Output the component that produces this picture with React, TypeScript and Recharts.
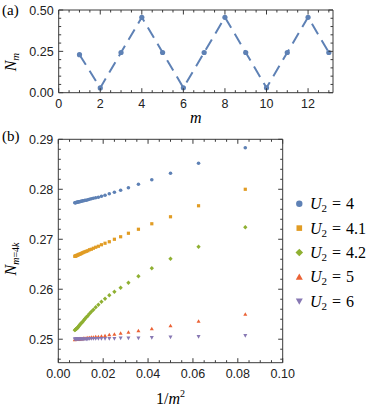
import React from "react"
import { ComposedChart, Line, Scatter, XAxis, YAxis } from "recharts"

// panel (a): N_m against m
const mValues = [1, 2, 3, 4, 5, 6, 7, 8, 9, 10, 11, 12, 13]
const nValues = [0.23, 0.029, 0.243, 0.456, 0.243, 0.03, 0.243, 0.456, 0.243, 0.03, 0.243, 0.456, 0.243]

// panel (b): N_{m=4k} against 1/m^2
const invM2 = [
 0.08333, 0.0625, 0.05, 0.04167, 0.03571, 0.03125, 0.02778, 0.025, 0.02273, 0.02083, 0.01923,
 0.01786, 0.01667, 0.01563, 0.01471, 0.01389, 0.01316, 0.0125, 0.0119, 0.01136, 0.01087, 0.01042,
 0.01, 0.00962, 0.00926, 0.00893, 0.00862, 0.00833, 0.00806, 0.00781, 0.00758, 0.00735,
]
const u4 = [
 0.2883, 0.2852, 0.2832, 0.2819, 0.281, 0.2803, 0.2798, 0.2794, 0.2791, 0.2788, 0.2786,
 0.2784, 0.2783, 0.2782, 0.2781, 0.278, 0.2779, 0.2778, 0.2778, 0.2777, 0.2777, 0.2776,
 0.2776, 0.2775, 0.2775, 0.2775, 0.2774, 0.2774, 0.2774, 0.2773, 0.2773, 0.2773,
]
const u41 = [
 0.28, 0.2767, 0.2745, 0.2731, 0.272, 0.2712, 0.2705, 0.27, 0.2695, 0.2692, 0.2689,
 0.2686, 0.2684, 0.2682, 0.268, 0.2679, 0.2677, 0.2676, 0.2675, 0.2674, 0.2673, 0.2672,
 0.2671, 0.267, 0.267, 0.2669, 0.2668, 0.2668, 0.2667, 0.2667, 0.2666, 0.2666,
]
const u42 = [
 0.2724, 0.2685, 0.2661, 0.2642, 0.2626, 0.2613, 0.2603, 0.2595, 0.2588, 0.2581, 0.2575,
 0.2569, 0.2564, 0.2559, 0.2555, 0.2551, 0.2547, 0.2544, 0.2541, 0.2538, 0.2535, 0.2533,
 0.2531, 0.2529, 0.2527, 0.2525, 0.2523, 0.2522, 0.2521, 0.252, 0.2519, 0.2518,
]
const u5 = [
 0.255, 0.2536, 0.2527, 0.2521, 0.2517, 0.2514, 0.2512, 0.251, 0.2509, 0.2507, 0.2506,
 0.2505, 0.2505, 0.2504, 0.2504, 0.2503, 0.2503, 0.2502, 0.2502, 0.2502, 0.2501, 0.2501,
 0.2501, 0.2501, 0.25, 0.25, 0.25, 0.25, 0.25, 0.25, 0.25, 0.2499,
]
const u6 = [
 0.2507, 0.2505, 0.2504, 0.2503, 0.2502, 0.2502, 0.2502, 0.2501, 0.2501, 0.2501, 0.2501,
 0.2501, 0.2501, 0.2501, 0.2501, 0.2501, 0.25, 0.25, 0.25, 0.25, 0.25, 0.25,
 0.25, 0.25, 0.25, 0.25, 0.25, 0.25, 0.25, 0.25, 0.25, 0.25,
]

const seriesLabels = ["4", "4.1", "4.2", "5", "6"]
const seriesColors = ["#5E81B5", "#E19C24", "#8FB032", "#EB6235", "#8778B3"]
const seriesShapes = ["circle", "square", "diamond", "up", "down"]
const seriesValues = [u4, u41, u42, u5, u6]

// tick labels
const aXMajor = [0, 2, 4, 6, 8, 10, 12]
const aYMajor = [0, 0.25, 0.5]
const bXMajor = [0, 0.02, 0.04, 0.06, 0.08, 0.1]
const bYMajor = [0.25, 0.26, 0.27, 0.28, 0.29]

const steps = (from: number, to: number, step: number) => {
 const out: number[] = []
 for (let i = 0; from + i * step <= to + 1e-9; i++) out.push(+(from + i * step).toFixed(6))
 return out
}

const aXTicks = steps(0, 13, 0.5)
const aYTicks = steps(0, 0.5, 0.05)
const bXTicks = steps(0, 0.1, 0.005)
const bYTicks = steps(0.246, 0.29, 0.002)

const FRAME = "#3a3a3a"
const SANS = "'Liberation Sans', Arial, sans-serif"
const SERIF = "'Liberation Serif', 'Times New Roman', serif"

const isMajor = (v: number, majors: number[]) => majors.some((m) => Math.abs(m - v) < 1e-9)

type TickProps = {
 x?: number
 y?: number
 payload?: { value: number }
 side: "bottom" | "top" | "left" | "right"
 majors: number[]
 digits?: number
}

const FrameTick = ({ x = 0, y = 0, payload, side, majors, digits }: TickProps) => {
 const v = payload ? payload.value : 0
 const major = isMajor(v, majors)
 const len = major ? 4.5 : 2.5
 let line
 if (side === "bottom") line = <line x1={x} y1={y} x2={x} y2={y - len} />
 else if (side === "top") line = <line x1={x} y1={y} x2={x} y2={y + len} />
 else if (side === "left") line = <line x1={x} y1={y} x2={x + len} y2={y} />
 else line = <line x1={x} y1={y} x2={x - len} y2={y} />
 let label = null
 if (major && digits !== undefined) {
  const txt = v.toFixed(digits)
  if (side === "bottom")
   label = (
    <text x={x} y={y + 15.5} textAnchor="middle" fontFamily={SANS} fontSize={12.5} fill="#222" stroke="none">
     {txt}
    </text>
   )
  if (side === "left")
   label = (
    <text x={x - 5} y={y + 4.5} textAnchor="end" fontFamily={SANS} fontSize={12.5} fill="#222" stroke="none">
     {txt}
    </text>
   )
 }
 return (
  <g>
   <g stroke={FRAME} strokeWidth={1}>{line}</g>
   {label}
  </g>
 )
}

const Marker = ({ cx = 0, cy = 0, kind, color, s }: { cx?: number; cy?: number; kind: string; color: string; s: number }) => {
 if (kind === "circle") return <circle cx={cx} cy={cy} r={s} fill={color} />
 if (kind === "square") return <rect x={cx - s} y={cy - s} width={2 * s} height={2 * s} fill={color} />
 if (kind === "diamond") {
  const d = s * 1.35
  return <path d={`M${cx},${cy - d}L${cx + d},${cy}L${cx},${cy + d}L${cx - d},${cy}Z`} fill={color} />
 }
 const h = s * 1.25
 if (kind === "up")
  return <path d={`M${cx},${cy - h}L${cx + h},${cy + h * 0.8}L${cx - h},${cy + h * 0.8}Z`} fill={color} />
 return <path d={`M${cx},${cy + h}L${cx + h},${cy - h * 0.8}L${cx - h},${cy - h * 0.8}Z`} fill={color} />
}

const topData = mValues.map((m, i) => ({ x: m, y: nValues[i] }))
const bottomSeries = seriesValues.map((vals) => vals.map((y, i) => ({ x: invM2[i], y })))

const axisLine = { stroke: FRAME, strokeWidth: 1 }

export default function App() {
 return (
  <div style={{ position: "absolute", left: 0, top: 0, width: 374, height: 409, background: "#fff" }}>
   <div style={{ position: "absolute", left: 0, top: 0 }}>
    <ComposedChart width={374} height={130} margin={{ top: 10, right: 41, bottom: 17.3, left: 18.7 }}>
     <XAxis xAxisId="b" dataKey="x" type="number" domain={[0, 13.2]} allowDataOverflow ticks={aXTicks} interval={0}
      height={20} tickSize={0} tickMargin={0} tickLine={false} axisLine={axisLine}
      tick={(p: any) => <FrameTick {...p} side="bottom" majors={aXMajor} digits={0} />} />
     <XAxis xAxisId="t" dataKey="x" orientation="top" mirror type="number" domain={[0, 13.2]} allowDataOverflow
      ticks={aXTicks} interval={0} tickSize={0} tickMargin={0} tickLine={false} axisLine={axisLine}
      tick={(p: any) => <FrameTick {...p} side="top" majors={aXMajor} />} />
     <YAxis yAxisId="l" dataKey="y" type="number" domain={[0, 0.5]} allowDataOverflow ticks={aYTicks} interval={0}
      width={40} tickSize={0} tickMargin={0} tickLine={false} axisLine={axisLine}
      tick={(p: any) => <FrameTick {...p} side="left" majors={aYMajor} digits={2} />} />
     <YAxis yAxisId="r" dataKey="y" orientation="right" mirror type="number" domain={[0, 0.5]} allowDataOverflow
      ticks={aYTicks} interval={0} tickSize={0} tickMargin={0} tickLine={false} axisLine={axisLine}
      tick={(p: any) => <FrameTick {...p} side="right" majors={aYMajor} />} />
     <Line xAxisId="b" yAxisId="l" data={topData} dataKey="y" type="linear" stroke="#5E81B5" strokeWidth={2}
      strokeDasharray="12 7" dot={{ r: 2.6, fill: "#5E81B5", stroke: "none", strokeDasharray: "" }}
      isAnimationActive={false} />
    </ComposedChart>
   </div>
   <div style={{ position: "absolute", left: 0, top: 125 }}>
    <ComposedChart width={374} height={284} margin={{ top: 14.3, right: 91.3, bottom: 26.3, left: 18.3 }}>
     <XAxis xAxisId="b" dataKey="x" type="number" domain={[0, 0.1]} allowDataOverflow ticks={bXTicks} interval={0}
      height={20} tickSize={0} tickMargin={0} tickLine={false} axisLine={axisLine}
      tick={(p: any) => <FrameTick {...p} side="bottom" majors={bXMajor} digits={2} />} />
     <XAxis xAxisId="t" dataKey="x" orientation="top" mirror type="number" domain={[0, 0.1]} allowDataOverflow
      ticks={bXTicks} interval={0} tickSize={0} tickMargin={0} tickLine={false} axisLine={axisLine}
      tick={(p: any) => <FrameTick {...p} side="top" majors={bXMajor} />} />
     <YAxis yAxisId="l" dataKey="y" type="number" domain={[0.2453, 0.29]} allowDataOverflow ticks={bYTicks}
      interval={0} width={40} tickSize={0} tickMargin={0} tickLine={false} axisLine={axisLine}
      tick={(p: any) => <FrameTick {...p} side="left" majors={bYMajor} digits={2} />} />
     <YAxis yAxisId="r" dataKey="y" orientation="right" mirror type="number" domain={[0.2453, 0.29]} allowDataOverflow
      ticks={bYTicks} interval={0} tickSize={0} tickMargin={0} tickLine={false} axisLine={axisLine}
      tick={(p: any) => <FrameTick {...p} side="right" majors={bYMajor} />} />
     {bottomSeries.map((pts, i) => (
      <Scatter key={seriesLabels[i]} xAxisId="b" yAxisId="l" data={pts} fill={seriesColors[i]}
       isAnimationActive={false}
       shape={(p: any) => (
        <Marker cx={p.cx} cy={p.cy} kind={seriesShapes[i]} color={seriesColors[i]} s={i === 0 ? 1.8 : 1.6} />
       )} />
     ))}
    </ComposedChart>
   </div>
   <svg width={374} height={409} style={{ position: "absolute", left: 0, top: 0, pointerEvents: "none" }}>
    <text x={2} y={15} fontFamily={SERIF} fontSize={15} fill="#000">(a)</text>
    <text x={2} y={141} fontFamily={SERIF} fontSize={15} fill="#000">(b)</text>
    <text transform="translate(16,62) rotate(-90)" textAnchor="middle" fontFamily={SERIF} fontSize={16} fill="#000">
     <tspan fontStyle="italic">N</tspan>
     <tspan fontStyle="italic" fontSize={11} dy={3}>m</tspan>
    </text>
    <text transform="translate(16,259) rotate(-90)" textAnchor="middle" fontFamily={SERIF} fontSize={16} fill="#000">
     <tspan fontStyle="italic">N</tspan>
     <tspan fontSize={10} dy={3}>
      <tspan fontStyle="italic">m</tspan>=4<tspan fontStyle="italic">k</tspan>
     </tspan>
    </text>
    <text x={195.9} y={123} textAnchor="middle" fontFamily={SERIF} fontSize={16} fontStyle="italic" fill="#000">m</text>
    <text x={170.5} y={404} textAnchor="middle" fontFamily={SERIF} fontSize={16} fill="#000">
     1/<tspan fontStyle="italic">m</tspan>
     <tspan fontSize={10} dy={-7}>2</tspan>
    </text>
    {seriesLabels.map((lab, i) => {
     const cy = 203.7 + i * 24.4
     return (
      <g key={lab}>
       <Marker cx={299.3} cy={cy} kind={seriesShapes[i]} color={seriesColors[i]} s={i === 0 ? 3.2 : 2.8} />
       <text x={310} y={cy + 5.5} fontFamily={SERIF} fontSize={16} fill="#000">
        <tspan fontStyle="italic">U</tspan>
        <tspan fontSize={11} dy={3}>2</tspan>
        <tspan dy={-3} dx={5}>=</tspan>
        <tspan dx={5}>{lab}</tspan>
       </text>
      </g>
     )
    })}
   </svg>
  </div>
 )
}
